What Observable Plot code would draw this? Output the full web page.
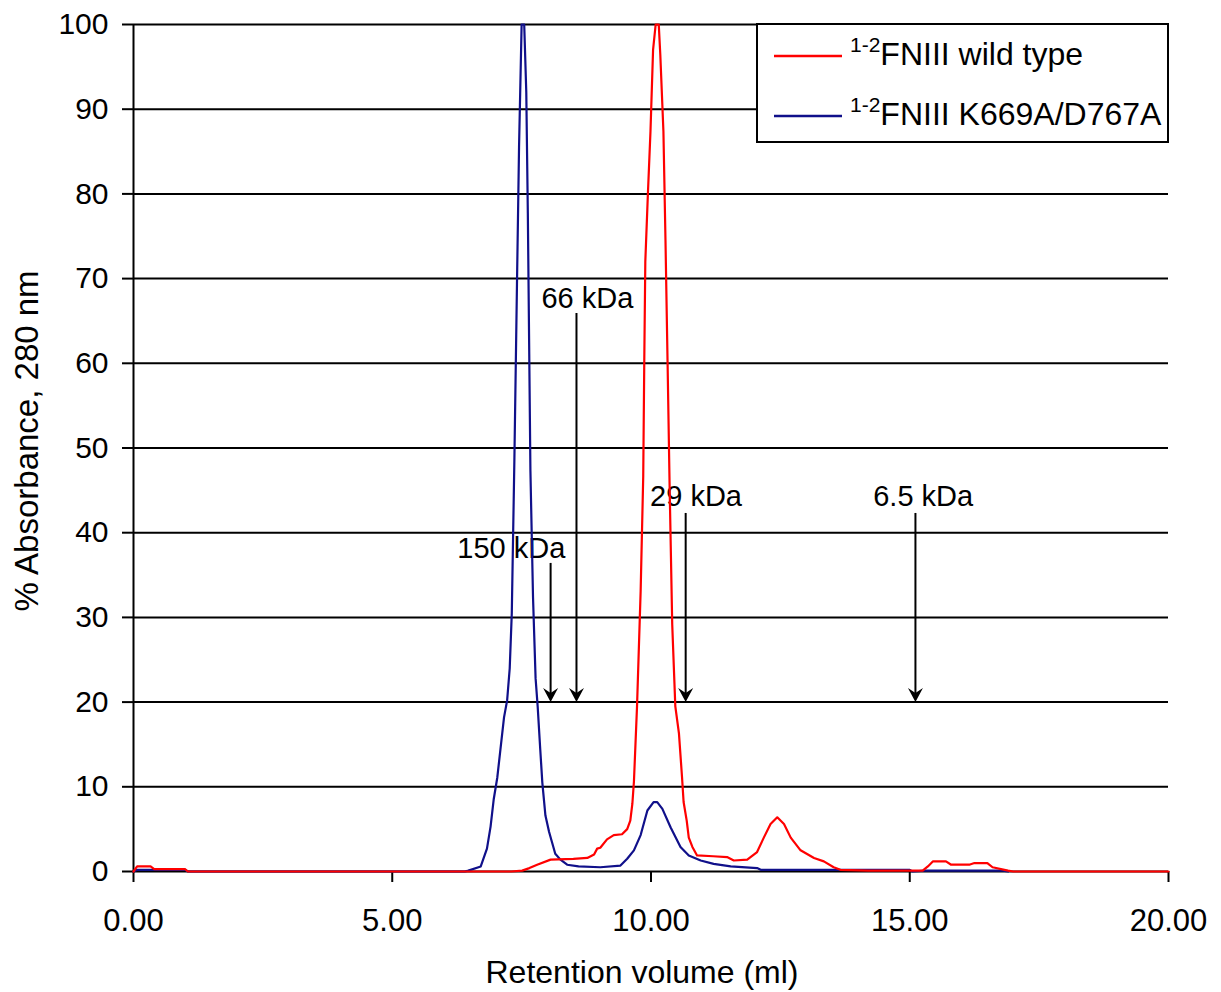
<!DOCTYPE html>
<html>
<head>
<meta charset="utf-8">
<script src="https://cdn.jsdelivr.net/npm/d3@7"></script>
<script src="https://cdn.jsdelivr.net/npm/@observablehq/plot@0.6"></script>
<style>
  html, body { margin: 0; padding: 0; background: #fff; }
  #chart { width: 1221px; height: 992px; }
</style>
</head>
<body>
<div id="chart"></div>
<script>
// ---- Data ----
const xTicks = [0, 5, 10, 15, 20];
const yTicks = [0, 10, 20, 30, 40, 50, 60, 70, 80, 90, 100];

const seriesNames = ["FNIII wild type", "FNIII K669A/D767A"];
const seriesPrefix = "1-2";
const seriesColors = ["#ff0000", "#10108a"];

// wild type (red)
const wtX = [0, 0.07, 0.33, 0.4, 1.0, 1.05, 7.3, 7.51, 7.65, 7.8, 8.06, 8.5, 8.77, 8.9, 8.96, 9.02, 9.15, 9.28, 9.44, 9.54, 9.6, 9.64, 9.67,
  9.73, 9.8, 9.85, 9.87, 9.89, 9.94, 9.99, 10.04, 10.09, 10.15, 10.18, 10.24, 10.28, 10.32, 10.36, 10.41, 10.47, 10.54, 10.6,
  10.63, 10.69, 10.73, 10.8, 10.89, 11.2, 11.47, 11.6, 11.86, 12.05, 12.18, 12.31, 12.44, 12.57, 12.7, 12.89, 13.15, 13.34, 13.53,
  13.66, 14.2, 15.0, 15.25, 15.35, 15.45, 15.7, 15.8, 16.15, 16.25, 16.5, 16.6, 16.9, 17.0, 20.0];
const wtY = [0, 0.6, 0.6, 0.27, 0.27, 0, 0, 0.1, 0.4, 0.8, 1.4, 1.5, 1.6, 2.0, 2.7, 2.8, 3.8, 4.3, 4.4, 5.0, 6.0, 8.0, 10.6,
  19.5, 33.1, 46.7, 60.2, 72, 80, 87.4, 97, 100, 100, 96.4, 87.4, 74.5, 60.2, 45.4, 29.2, 19.5, 16.3, 11.1,
  8.2, 6.0, 4.0, 2.9, 1.9, 1.8, 1.7, 1.3, 1.4, 2.3, 4.0, 5.6, 6.4, 5.6, 4.0, 2.5, 1.6, 1.2, 0.5,
  0.2, 0.1, 0.1, 0.1, 0.6, 1.2, 1.2, 0.8, 0.8, 1.0, 1.0, 0.5, 0.1, 0, 0];

// K669A/D767A (blue)
const mutX = [0, 0.07, 1.0, 1.05, 6.4, 6.47, 6.71, 6.83, 6.9, 6.96, 7.03, 7.09, 7.16, 7.22, 7.27, 7.31, 7.36, 7.41, 7.45, 7.5, 7.55,
  7.59, 7.62, 7.67, 7.72, 7.77, 7.81, 7.86, 7.9, 7.96, 8.03, 8.09, 8.15, 8.25, 8.38, 8.6, 9.02, 9.41, 9.54, 9.67, 9.8, 9.93, 10.05, 10.12,
  10.22, 10.38, 10.57, 10.73, 10.96, 11.21, 11.54, 12.05, 12.12, 15.0, 15.05, 15.3, 16.8, 16.9];
const mutY = [0, 0.2, 0.2, 0, 0, 0.1, 0.6, 2.7, 5.3, 8.5, 11.1, 14.4, 18.2, 20.2, 24, 30.5, 48.6, 69.3, 85.5, 100, 100,
  92, 77.7, 47.3, 32.4, 22.8, 19.5, 14.4, 10.5, 6.6, 4.7, 3.4, 2.1, 1.4, 0.8, 0.6, 0.5, 0.7, 1.5, 2.5, 4.3, 7.2, 8.2, 8.2,
  7.4, 5.2, 2.9, 1.9, 1.3, 0.9, 0.6, 0.4, 0.2, 0.2, 0, 0.1, 0.1, 0];

// molecular weight markers
const markerLabels = ["150 kDa", "66 kDa", "29 kDa", "6.5 kDa"];
const markerX = [8.06, 8.56, 10.67, 15.11];
const markerTop = [35.9, 65.4, 41.8, 41.8];
const markerTip = [20, 20, 20, 20];
const markerLabelX = [7.30, 8.77, 10.87, 15.26];
const markerLabelY = [38.1, 67.6, 44.3, 44.3];

const xLabel = "Retention volume (ml)";
const yLabel = "% Absorbance, 280 nm";

// ---- Build tables ----
const wt = wtX.map((x, i) => ({x, y: wtY[i]}));
const mut = mutX.map((x, i) => ({x, y: mutY[i]}));
const markers = markerLabels.map((label, i) => ({
  label, x: markerX[i], top: markerTop[i], tip: markerTip[i], lx: markerLabelX[i], ly: markerLabelY[i]
}));

// filled arrowhead, tip at origin, pointing down
const arrowHead = {
  draw(context) {
    context.moveTo(0, 0);
    context.lineTo(-7.5, -14);
    context.lineTo(0, -9);
    context.lineTo(7.5, -14);
    context.closePath();
  }
};

const FONT = "'Liberation Sans', Arial, Helvetica, sans-serif";

const chart = Plot.plot({
  width: 1221,
  height: 992,
  marginLeft: 133,
  marginRight: 53,
  marginTop: 24,
  marginBottom: 121,
  style: {fontFamily: FONT, fontSize: "29px", color: "#000", background: "#fff", overflow: "visible"},
  x: {domain: [0, 20]},
  y: {domain: [0, 100]},
  marks: [
    Plot.ruleY(yTicks, {stroke: "#000", strokeWidth: 2}),
    Plot.ruleX([0], {stroke: "#000", strokeWidth: 2}),
    Plot.axisX({ticks: xTicks, tickFormat: d => d.toFixed(2), tickSize: 11, tickPadding: 26, label: null, fontSize: 31, strokeWidth: 2, stroke: "#000", fill: "#000"}),
    Plot.axisY({ticks: yTicks, tickSize: 11, tickPadding: 14, label: null, fontSize: 30, strokeWidth: 2, stroke: "#000", fill: "#000"}),
    Plot.ruleX(markers, {x: "x", y1: "top", y2: "tip", stroke: "#000", strokeWidth: 2, dy: -4}),
    Plot.dot(markers, {x: "x", y: "tip", symbol: arrowHead, fill: "#000", stroke: null, r: 5}),
    Plot.text(markers, {x: "lx", y: "ly", text: "label", fontSize: 29, fill: "#000"}),
    Plot.line(mut, {x: "x", y: "y", stroke: seriesColors[1], strokeWidth: 2.2}),
    Plot.line(wt, {x: "x", y: "y", stroke: seriesColors[0], strokeWidth: 2.2}),
    Plot.text([xLabel], {frameAnchor: "bottom", textAnchor: "middle", lineAnchor: "middle", dy: 101, dx: -9, fontSize: 32, fill: "#000"}),
    Plot.text([yLabel], {frameAnchor: "left", textAnchor: "middle", lineAnchor: "middle", rotate: -90, dx: -106, dy: -7, fontSize: 33, fill: "#000"})
  ]
});

document.getElementById("chart").appendChild(chart);

// ---- Legend (inside the SVG, top right) ----
const svg = d3.select(chart);
const lg = svg.append("g").attr("font-family", FONT).attr("text-anchor", "start");
lg.append("rect").attr("x", 757).attr("y", 24).attr("width", 411).attr("height", 118)
  .attr("fill", "#fff").attr("stroke", "#000").attr("stroke-width", 2);
const rowsY = [56, 116];
seriesNames.forEach((name, i) => {
  lg.append("line").attr("x1", 774).attr("x2", 842).attr("y1", rowsY[i]).attr("y2", rowsY[i])
    .attr("stroke", seriesColors[i]).attr("stroke-width", 2.5);
  const t = lg.append("text").attr("x", 850).attr("y", rowsY[i] + 9).attr("font-size", 32)
    .attr("fill", "#000").attr("text-anchor", "start");
  t.append("tspan").attr("font-size", 21).attr("dy", -13).text(seriesPrefix);
  t.append("tspan").attr("dy", 13).text(name);
});
</script>
</body>
</html>
